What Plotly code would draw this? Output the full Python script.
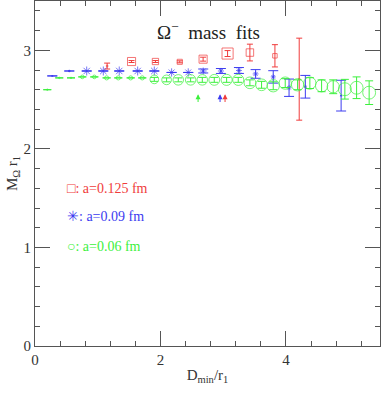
import plotly.graph_objects as go

# a = 0.125 fm (red squares)
red_x = [1.15, 1.539, 1.92, 2.308, 2.68, 3.07, 3.426, 3.825, 4.212]
red_y = [2.84, 2.886, 2.886, 2.883, 2.91, 2.967, 2.977, 2.944, 2.707]
red_err = [0.03, 0.01, 0.01, 0.01, 0.02, 0.03, 0.085, 0.113, 0.416]
red_q = [0.0, 0.55, 0.4, 0.3, 0.55, 0.8, 0.5, 0.25, 0.0]

# a = 0.09 fm (blue bursts)
blue_x = [0.276, 0.547, 0.824, 1.089, 1.343, 1.637, 1.902, 2.178, 2.443, 2.682,
          2.964, 3.251, 3.517, 3.798, 4.05, 4.31, 4.88]
blue_y = [2.74, 2.79, 2.79, 2.79, 2.79, 2.79, 2.79, 2.775, 2.775, 2.79,
          2.79, 2.795, 2.76, 2.73, 2.62, 2.63, 2.54]
blue_err = [None, None, None, None, None, None, None, None, None, 0.02,
            0.025, 0.03, 0.044, 0.063, 0.088, 0.115, 0.156]
blue_q = [0.0, 0.05, 0.5, 0.5, 0.5, 0.5, 0.5, 0.45, 0.45, 0.35,
          0.3, 0.28, 0.28, 0.22, 0.22, 0.08, 0.0]

# a = 0.06 fm (green circles)
green_x = [0.196, 0.387, 0.574, 0.754, 0.946, 1.142, 1.328, 1.525, 1.71, 1.902,
           2.098, 2.284, 2.481, 2.667, 2.858, 3.055, 3.24, 3.426, 3.612, 3.798,
           3.989, 4.186, 4.382, 4.569, 4.754, 4.94, 5.127, 5.327]
green_y = [2.6, 2.72, 2.72, 2.73, 2.73, 2.72, 2.72, 2.72, 2.72, 2.705,
           2.70, 2.70, 2.70, 2.70, 2.70, 2.70, 2.70, 2.67, 2.65, 2.64,
           2.667, 2.65, 2.667, 2.64, 2.63, 2.605, 2.62, 2.57]
green_err = [None, None, None, None, None, None, None, None, None, 0.02,
             0.02, 0.02, 0.02, 0.025, 0.025, 0.025, 0.025, 0.03, 0.035, 0.04,
             0.045, 0.05, 0.055, 0.06, 0.07, 0.10, 0.11, 0.12]
green_q = [0.0, 0.0, 0.0, 0.18, 0.18, 0.22, 0.22, 0.22, 0.22, 0.6,
           0.68, 0.75, 0.75, 0.75, 0.78, 0.8, 0.8, 0.85, 0.85, 0.9,
           0.9, 0.9, 0.9, 0.9, 0.9, 0.95, 0.95, 0.95]

# D_min/r_1 cut markers
arrow_x = [2.60, 2.95, 3.03]

RED, BLUE, GREEN = "#f03c3c", "#3c3cf0", "#3cf03c"
FONT = "Liberation Serif"


def sizes(q):
    return [1.5 + 12 * v for v in q]


fig = go.Figure()
for xs, ys, es, qs, col, sym, cw in [
    (red_x, red_y, red_err, red_q, RED, "square-open", 3),
    (blue_x, blue_y, blue_err, blue_q, BLUE, "asterisk-open", 5),
    (green_x, green_y, green_err, green_q, GREEN, "circle-open", 4),
]:
    fig.add_trace(go.Scatter(
        x=xs, y=ys, mode="markers",
        error_y=dict(type="data", array=es, color=col, thickness=1, width=cw),
        marker=dict(symbol=sym, size=sizes(qs), color=col, line=dict(color=col, width=1)),
        showlegend=False))

for ax_, col in zip(arrow_x, [GREEN, BLUE, RED]):
    fig.add_annotation(x=ax_, y=2.555, ax=ax_, ay=2.46, axref="x", ayref="y",
                       xref="x", yref="y", text="", showarrow=True,
                       arrowhead=2, arrowsize=1, arrowwidth=1, arrowcolor=col)

fig.add_annotation(x=2.76, y=3.2, xref="x", yref="y", showarrow=False,
                   text="Ω<sup>−</sup>  mass  fits",
                   font=dict(family=FONT, size=19, color="#222"))

legend = [("□: a=0.125 fm", RED, 1.60), ("✳: a=0.09 fm", BLUE, 1.31),
          ("○: a=0.06 fm", GREEN, 1.01)]
for txt, col, yy in legend:
    fig.add_annotation(x=0.48, y=yy, xref="x", yref="y", showarrow=False,
                       xanchor="left", text=txt,
                       font=dict(family=FONT, size=14, color=col))

axis_common = dict(showline=True, linecolor="#555", linewidth=1, mirror="allticks",
                   ticks="inside", tickcolor="#555", showgrid=False, zeroline=False,
                   automargin=False,
                   tickfont=dict(family=FONT, size=15, color="#333"))
fig.update_xaxes(range=[0, 5.5], dtick=2, tick0=0, ticklen=15,
                 minor=dict(dtick=0.4, ticklen=5, ticks="inside", tickcolor="#555"),
                 title=dict(text="D<sub>min</sub>/r<sub>1</sub>", standoff=2,
                            font=dict(family=FONT, size=15, color="#333")),
                 **axis_common)
fig.update_yaxes(range=[0, 3.5], dtick=1, tick0=0, ticklen=15,
                 minor=dict(dtick=0.2, ticklen=5, ticks="inside", tickcolor="#555"),
                 title=dict(text="M<sub>Ω</sub> r<sub>1</sub>", standoff=2,
                            font=dict(family=FONT, size=15, color="#333")),
                 **axis_common)
fig.update_layout(width=381, height=393, margin=dict(l=35, r=1, t=1, b=47),
                  plot_bgcolor="white", paper_bgcolor="white")
fig.write_html("out.html", config={"displayModeBar": False},
               post_script="document.body.style.margin='0';")
